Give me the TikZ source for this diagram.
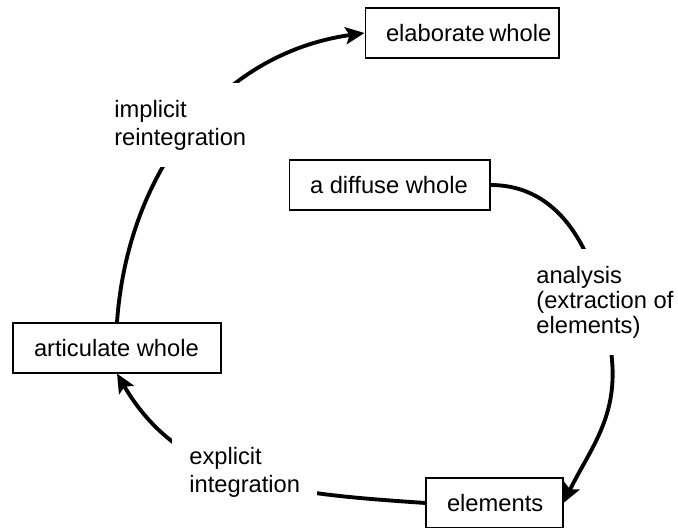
\documentclass[tikz,border=0pt]{standalone}
\usepackage{fontspec}
\setmainfont{Liberation Sans}
\usepackage{tikz}
\usetikzlibrary{arrows.meta}
\usetikzlibrary{positioning}
\tikzset{
    mybox/.style = {rectangle, draw=black, line width=0.6pt, align=flush left, inner xsep=0.42cm, inner ysep=0pt, minimum height=1.0cm},
    mylabel/.style = {fill=white, align=left, inner sep=0.34cm, anchor=north west},
}

\begin{document}
\begin{tikzpicture}[
	x=0.02cm,
	y=0.02cm,
	font=\fontsize{13.5}{15.9}\selectfont
]
\tikzset{
    edgea/.style = {line width=2.2pt, -{Stealth[length=0.38cm,width=0.34cm,inset=0.08cm]}},
}
\useasboundingbox (0,0) rectangle (678,-527);
\node[mybox, text width=3.04cm] at (462,-33) (elab) {elaborate~whole};
\node[mybox, text width=3.18cm] at (389.5,-185) (dif) {a~diffuse~whole};
\node[mybox, text width=3.32cm] at (117,-348) (art) {articulate~whole};
\node[mybox, text width=1.9cm] at (494.5,-503) (ele) {elements};
\draw[edgea] (dif.east) to[out=0,in=95] (612,-360) to[out=-85,in=64] (ele.east);
\draw[edgea] (ele.west) to[out=176,in=-60] (art.south);
\draw[edgea] (art.north) to[out=86,in=188] (elab.west);
\node[mylabel] at (97,-83) (impl) {implicit\\reintegration};
\node[mylabel, font=\fontsize{13.5}{14.2}\selectfont] at (519,-249) (anl) {analysis\\(extraction of\\elements)};
\node[mylabel] at (172,-430) (expl) {explicit\\integration};

\end{tikzpicture}
\end{document}
